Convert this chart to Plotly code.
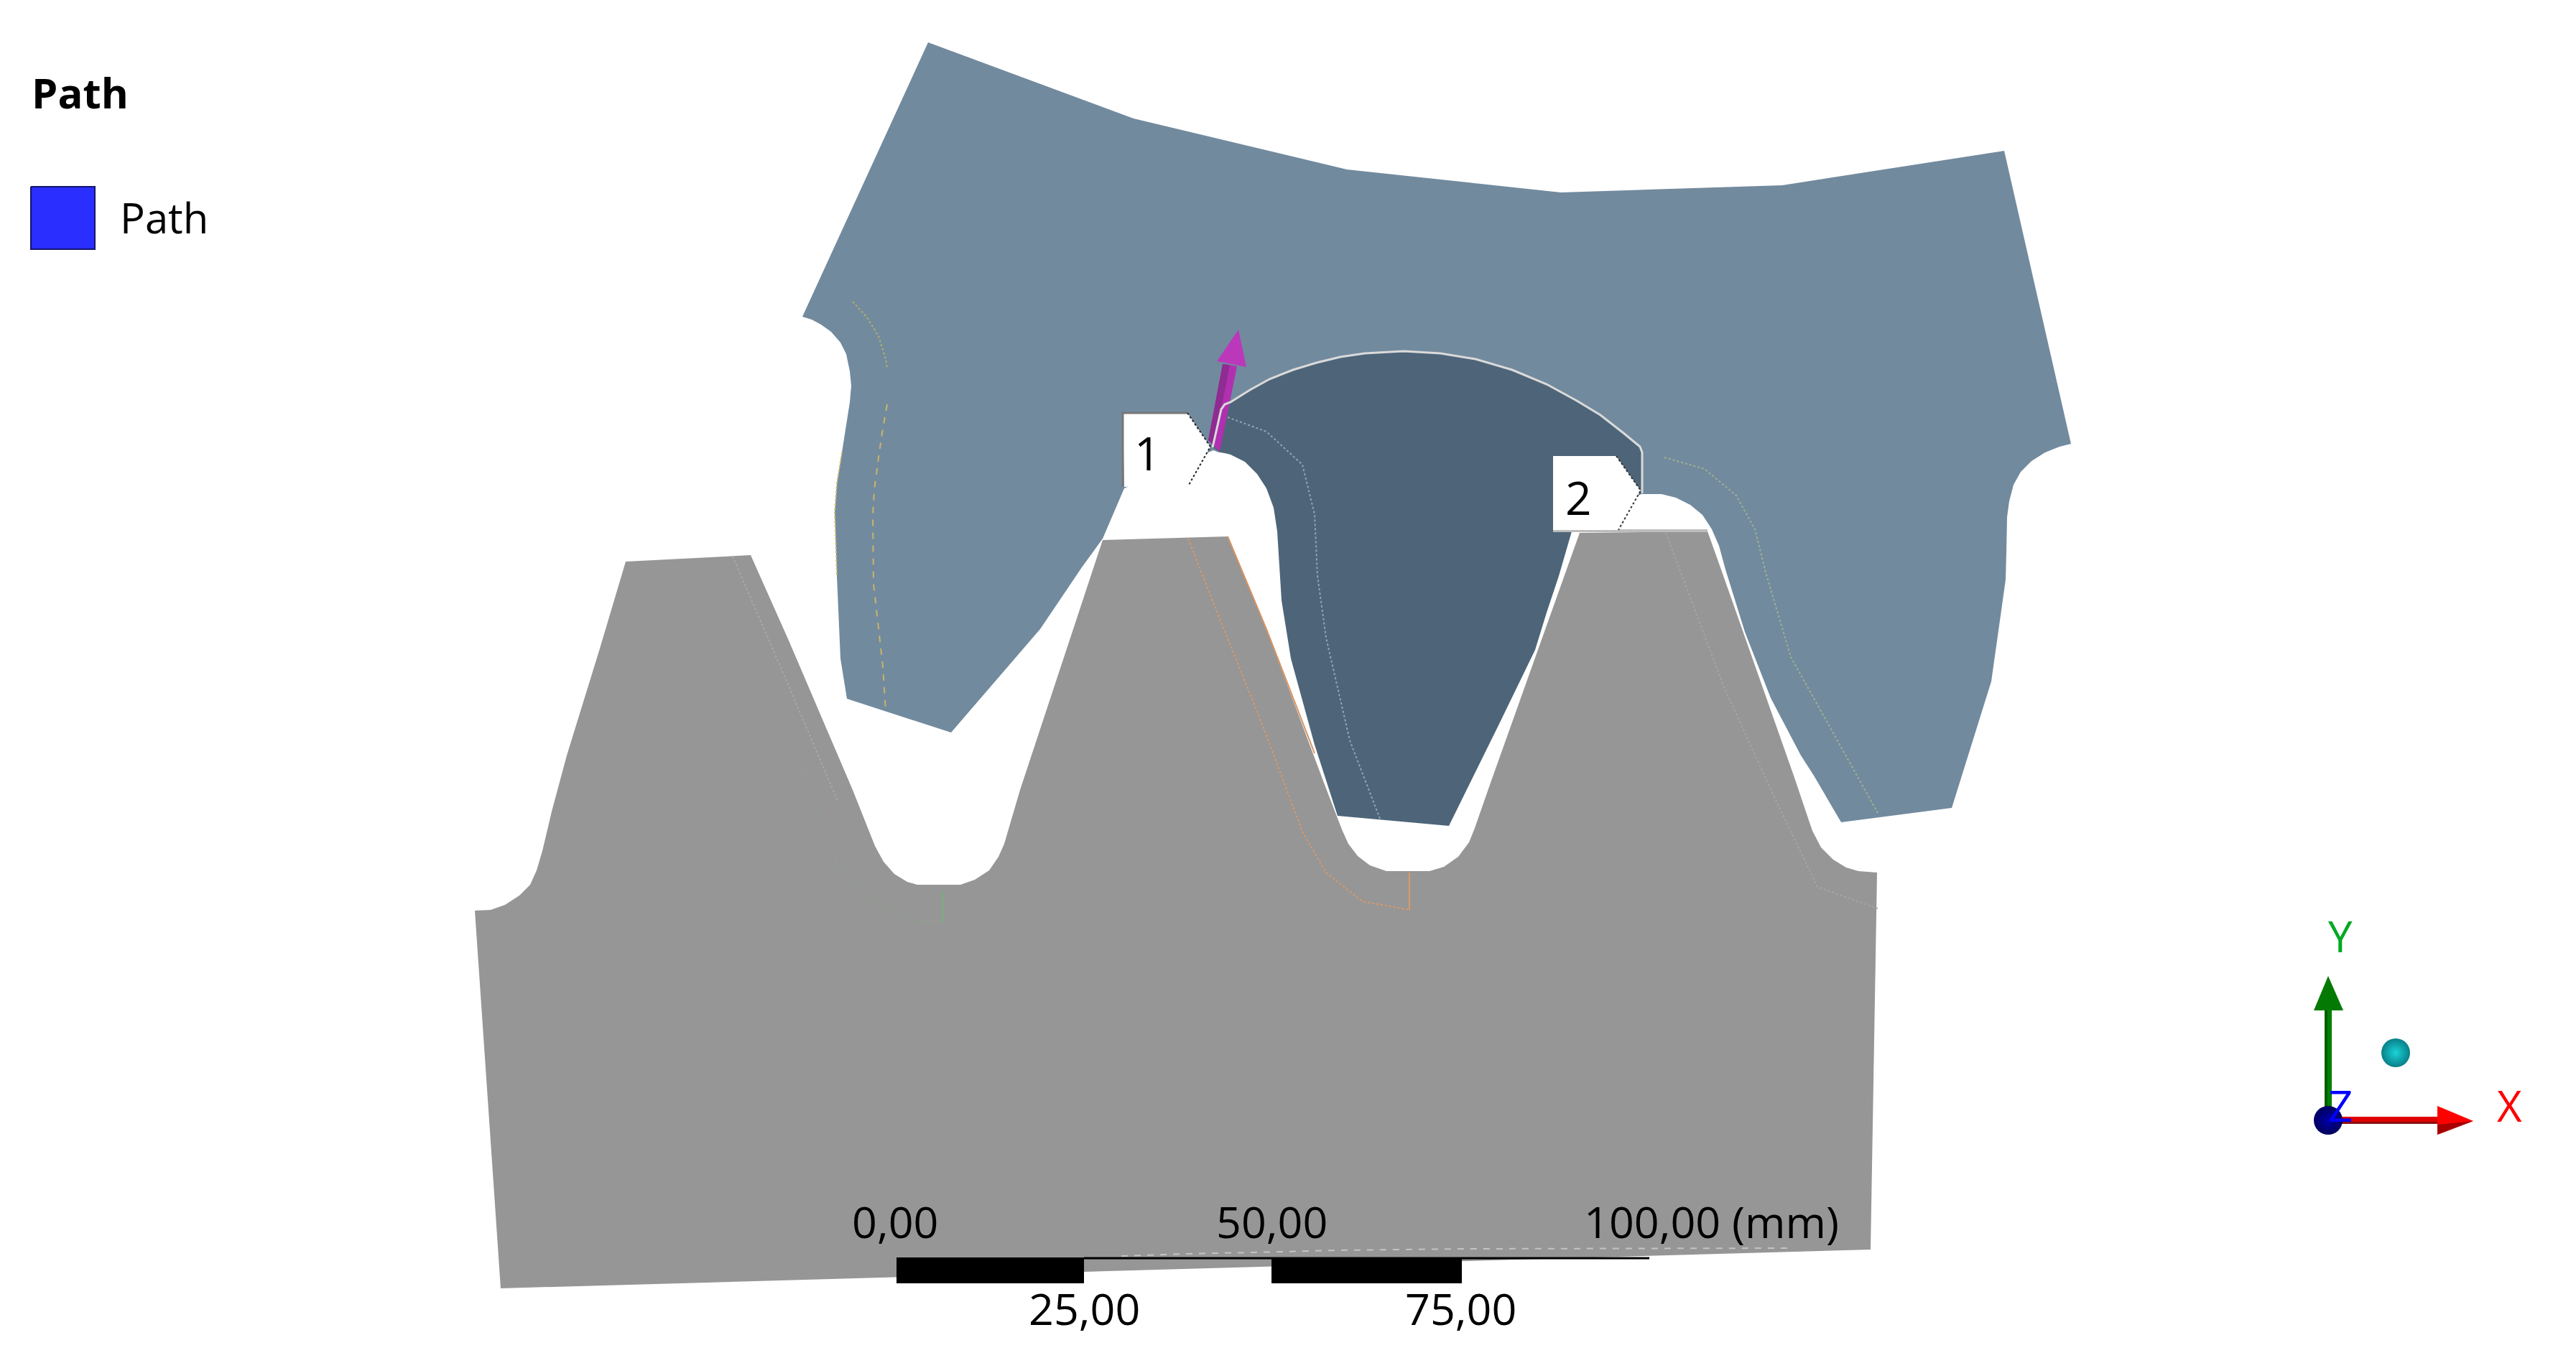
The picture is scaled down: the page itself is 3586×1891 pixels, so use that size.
import plotly.graph_objects as go

# outlines, in picture pixels (x, y)
gear_gray = [(661,1268),(683,1267),(703,1260),(723,1247),(738,1232),(747,1212),(755,1185),(768,1130),
	(789,1052),(835,903),(871,782),(1045,773),(1098,892),(1187,1100),(1218,1178),(1230,1200),(1245,1217),
	(1263,1228),(1277,1232),(1337,1232),(1357,1225),(1377,1212),(1390,1193),(1398,1175),(1420,1100),
	(1535,752),(1709,747),(1763,876),(1843,1090),(1868,1155),(1877,1175),(1890,1192),(1907,1205),
	(1930,1213),(1990,1213),(2010,1207),(2030,1193),(2045,1173),(2053,1153),(2075,1090),(2199,742),
	(2377,740),(2397,796),(2439,915),(2497,1080),(2523,1157),(2535,1180),(2552,1197),(2570,1208),
	(2587,1213),(2613,1215),(2604,1740),(697,1794)]

gear_blue = [(1292,59),(1578,165),(1875,236),(2173,268),(2481,258),(2790,210),(2883,618),(2867,622),
	(2847,630),(2828,642),(2813,657),(2803,675),(2797,698),(2794,720),(2793,770),(2792,807),(2785,857),
	(2772,949),(2717,1125),(2563,1145),(2525,1080),(2507,1052),(2465,972),(2429,880),(2402,793),
	(2393,760),(2383,737),(2370,717),(2353,703),(2333,693),(2313,688),(2287,688),(1697,630),(1689,627),
	(1565,680),(1535,750),(1506,790),(1448,876),(1324,1020),(1179,973),(1170,917),(1165,802),(1162,713),
	(1165,673),(1172,630),(1178,590),(1183,560),(1185,537),(1183,517),(1178,493),(1170,477),(1157,462),
	(1143,452),(1130,445),(1117,441)]

tooth_dark = [(1688,623),(1700,570),(1705,563),(1713,560),(1740,543),(1767,528),(1800,515),(1833,505),
	(1866,497),(1900,492),(1954,489),(2005,492),(2054,500),(2105,515),(2153,535),(2195,558),(2228,578),
	(2260,603),(2283,622),(2286,630),(2286,687),(2188,740),(2170,802),(2153,853),(2137,905),(2112,957),
	(2087,1008),(2017,1150),(1862,1136),(1830,1037),(1797,917),(1784,836),(1778,740),(1773,707),
	(1763,680),(1750,660),(1733,643),(1713,633),(1697,629)]

path_line = tooth_dark[:21]

# arrow on the path
arrow_shaft = [(1682,613),(1698,629),(1722,510),(1702,507)]
arrow_shaft_dark = [(1682,613),(1690,621),(1712,508),(1702,507)]
arrow_head = [(1724,459),(1735,511),(1694,503)]

# faint sub-geometry lines
line_yellow_top = [(1187,420),(1207,442),(1223,468),(1233,500),(1235,513)]
line_yellow_low = [(1235,563),(1228,603),(1223,637),(1217,683),(1215,717),(1216,813),(1229,928),(1233,991)]
line_yellow_edge = [(1172,630),(1165,673),(1162,713),(1165,802)]
line_white = [(1709,581),(1763,601),(1813,647),(1830,716),(1834,802),(1846,888),(1879,1031),(1921,1140)]
line_orange = [(1654,750),(1697,859),(1755,1003),(1813,1158),(1846,1215),(1896,1255),(1962,1267)]
line_orange_stub = [(1962,1215),(1962,1267)]
line_orange_flank = [(1709,747),(1763,876),(1830,1049)]
line_green = [(1100,1031),(1166,1204),(1208,1250),(1266,1284),(1314,1284)]
line_green_stub = [(1312,1240),(1312,1284)]
line_green_right = [(2317,637),(2373,653),(2417,690),(2443,737),(2458,797),(2493,915),(2614,1132)]
line_green_tooth = [(2319,742),(2400,957),(2470,1110),(2530,1235),(2614,1265)]
line_gray_tooth = [(1020,775),(1100,960),(1166,1115)]

# probe labels
label_1 = [(1563,575),(1653,575),(1685,622),(1655,675),(1565,678)]
label_2 = [(2162,635),(2250,635),(2284,683),(2253,738),(2162,738)]
label_1_border = [(1563,678),(1563,575),(1653,575)]
label_1_dots = [(1653,575),(1685,622),(1655,675)]
label_2_dots = [(2250,635),(2284,683),(2253,738)]
tooth_top_edge = [(2162,739),(2377,739)]

# scale bar
scale_black = [[(1248,1751),(1509,1751),(1509,1787),(1248,1787)],
			   [(1770,1751),(2035,1751),(2035,1787),(1770,1787)]]
scale_rule = [(1509,1752),(2296,1752)]
scale_streak = [(1561,1749),(1648,1746),(1743,1744),(1863,1741),(2035,1739),(2490,1738)]
scale_top = ['0,00', '50,00', '100,00 (mm)']
scale_top_x = [1246, 1770, 2382]
scale_bottom = ['25,00', '75,00']
scale_bottom_x = [1509, 2033]

# legend
legend_box = [(43,260),(132,260),(132,347),(43,347)]

# triad
green_shaft = [(3236,1407),(3246,1407),(3246,1543),(3236,1543)]
green_shaft_dark = [(3236,1407),(3240,1407),(3240,1543),(3236,1543)]
green_cone = [(3241,1359),(3262,1407),(3221,1407)]
red_shaft = [(3260,1555),(3393,1555),(3393,1565),(3260,1565)]
red_shaft_dark = [(3260,1562),(3393,1562),(3393,1565),(3260,1565)]
red_cone = [(3393,1540),(3443,1561),(3393,1580)]
red_cone_dark = [(3393,1566),(3443,1561),(3393,1580)]
ball_blue = (3241,1560)
ball_cyan = (3335,1466)


fig = go.Figure()


def poly(pts, color):
	fig.add_trace(go.Scatter(
					x			= [p[0] for p in pts],
					y			= [p[1] for p in pts],
					mode		= 'lines',
					fill		= 'toself',
					fillcolor	= color,
					line		= dict(width=0, color=color),
					hoverinfo	= 'skip',
					))


def stroke(pts, color, width=2, dash='solid'):
	fig.add_trace(go.Scatter(
					x			= [p[0] for p in pts],
					y			= [p[1] for p in pts],
					mode		= 'lines',
					line		= dict(color=color, width=width, dash=dash),
					hoverinfo	= 'skip',
					))


def ball(pos, size, center, edge):
	# the gradient colour lands in the middle of the marker, marker colour at the rim
	fig.add_trace(go.Scatter(
					x			= [pos[0]],
					y			= [pos[1]],
					mode		= 'markers',
					marker		= dict(size=size, color=edge, line=dict(width=0),
									   gradient=dict(type='radial', color=center)),
					hoverinfo	= 'skip',
					))


def text(x, y, s, size, color='#000000', bold=False, anchor='center'):
	fig.add_annotation(x=x, y=y, text='<b>%s</b>' % s if bold else s, showarrow=False,
					   xanchor=anchor, yanchor='middle', xref='x', yref='y',
					   font=dict(family='Open Sans', size=size, color=color))


poly(gear_gray, '#969696')
poly(gear_blue, '#728A9E')
poly(tooth_dark, '#4E6579')

stroke(line_yellow_top, '#b5ad6a', 2, 'dot')
stroke(line_yellow_low, '#c9b46a', 2, 'dash')
stroke(line_yellow_edge, '#d3bd6a', 2, 'dot')
stroke(line_white, '#93a5b3', 2, 'dot')
stroke(line_orange, '#dd9766', 2, 'dot')
stroke(line_orange_stub, '#e09a66', 2)
stroke(line_orange_flank, '#d8935f', 2)
stroke(line_green, '#8fa08f', 2, 'dot')
stroke(line_green_stub, '#74b07a', 2)
stroke(line_green_right, '#a0b090', 2, 'dot')
stroke(line_green_tooth, '#a0a8a0', 2, 'dot')
stroke(line_gray_tooth, '#a8a8a8', 2, 'dot')

poly(arrow_shaft, '#B030B0')
poly(arrow_shaft_dark, '#8E2C92')
poly(arrow_head, '#BB38BB')
stroke(path_line, '#DADADA', 3)

stroke(tooth_top_edge, '#bdbdbd', 4)
poly(label_1, '#ffffff')
poly(label_2, '#ffffff')
stroke(label_1_border, '#777777', 3)
stroke(label_1_dots, '#222222', 2, 'dot')
stroke(label_2_dots, '#333333', 2, 'dot')
text(1597, 630, '1', 64)
text(2197, 692, '2', 64)

stroke(scale_streak, '#c4c4c4', 2, 'dash')
poly(scale_black[0], '#000000')
poly(scale_black[1], '#000000')
stroke(scale_rule, '#000000', 3)
for s, x in zip(scale_top, scale_top_x):
	text(x, 1700, s, 61)
for s, x in zip(scale_bottom, scale_bottom_x):
	text(x, 1821, s, 61)

poly(legend_box, '#2A2EFF')
stroke(legend_box + legend_box[:1], '#14146e', 2)
text(42, 128, 'Path', 58, bold=True, anchor='left')
text(165, 302, 'Path', 58, anchor='left')

poly(green_shaft, '#008000')
poly(green_shaft_dark, '#005c00')
poly(green_cone, '#047a04')
poly(red_shaft, '#E00000')
poly(red_shaft_dark, '#8a1010')
poly(red_cone, '#FF0000')
poly(red_cone_dark, '#a80000')
ball(ball_cyan, 40, '#18D4D8', '#0A7F88')
ball(ball_blue, 40, '#0000A8', '#00005C')
text(3258, 1303, 'Y', 60, '#00AA22')
text(3493, 1539, 'X', 60, '#FF0000')
text(3258, 1539, 'Z', 60, '#0000FF')

fig.update_layout(
	width			= 3586,
	height			= 1891,
	autosize		= False,
	margin			= dict(t=0, b=0, l=0, r=0),
	paper_bgcolor	= '#ffffff',
	plot_bgcolor	= '#ffffff',
	showlegend		= False,
	xaxis			= dict(range=[0, 3586], visible=False, fixedrange=True),
	yaxis			= dict(range=[1891, 0], visible=False, fixedrange=True),
)

fig.write_html("out.html", config=dict(displayModeBar=False), post_script="document.body.style.margin='0';")
